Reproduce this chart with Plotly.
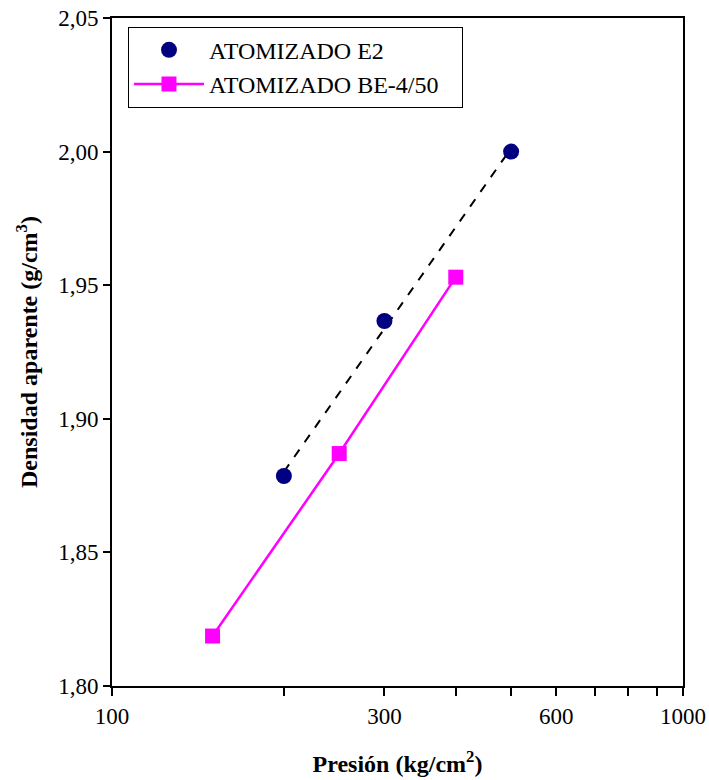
import numpy as np
import plotly.graph_objects as go

# Data
e2_pressure = [200, 300, 500]
e2_density = [1.8786, 1.9366, 2.000]
be_pressure = [150, 250, 400]
be_density = [1.8187, 1.887, 1.953]

series_names = ["ATOMIZADO E2", "ATOMIZADO BE-4/50"]

x_tickvals = [100, 200, 300, 400, 500, 600, 700, 800, 900, 1000]
x_ticktext = ["100", "", "300", "", "", "600", "", "", "", "1000"]
y_tickvals = [1.80, 1.85, 1.90, 1.95, 2.00, 2.05]

FONT = "'Liberation Serif', 'Times New Roman', serif"
PAD = "\u00a0\u00a0\u00a0"  # right padding inside the legend box

# Linear trend line (density vs log pressure) for E2
lx = np.log10(e2_pressure)
slope, intercept = np.polyfit(lx, e2_density, 1)
trend_x = [e2_pressure[0], e2_pressure[-1]]
trend_y = [slope * np.log10(v) + intercept for v in trend_x]

fig = go.Figure()
fig.add_trace(go.Scatter(
    x=trend_x, y=trend_y, mode="lines",
    line=dict(color="black", width=2, dash="dash"),
    showlegend=False, hoverinfo="skip"))
fig.add_trace(go.Scatter(
    x=e2_pressure, y=e2_density, mode="markers",
    name=series_names[0] + PAD,
    marker=dict(symbol="circle", size=16, color="#000080")))
fig.add_trace(go.Scatter(
    x=be_pressure, y=be_density, mode="lines+markers",
    name=series_names[1] + PAD,
    line=dict(color="#FF00FF", width=2.5),
    marker=dict(symbol="square", size=15, color="#FF00FF")))

fig.update_layout(
    width=709, height=780,
    margin=dict(l=112, r=26, t=18, b=94, autoexpand=False),
    paper_bgcolor="white", plot_bgcolor="white",
    separators=",.",
    font=dict(family=FONT, size=23, color="black"),
    legend=dict(
        x=0.028, y=0.987, xanchor="left", yanchor="top",
        bordercolor="black", borderwidth=1, bgcolor="white",
        font=dict(family=FONT, size=24, color="black"),
        tracegroupgap=0, itemwidth=70,
    ),
    xaxis=dict(
        type="log", range=[2, 3], automargin=False,
        tickvals=x_tickvals, ticktext=x_ticktext,
        ticks="outside", ticklen=8, tickwidth=2, tickcolor="black",
        ticklabeloverflow="allow",
        showline=True, linecolor="black", linewidth=2, mirror=True,
        showgrid=False, zeroline=False,
        tickfont=dict(family=FONT, size=23),
        title=dict(text="<b>Presión (kg/cm<sup>2</sup>)</b>",
                   font=dict(family=FONT, size=24), standoff=28),
    ),
    yaxis=dict(
        range=[1.80, 2.05], automargin=False,
        tickvals=y_tickvals, tickformat=".2f",
        ticks="outside", ticklen=7, tickwidth=2, tickcolor="black",
        ticklabeloverflow="allow",
        showline=True, linecolor="black", linewidth=2, mirror=True,
        showgrid=False, zeroline=False,
        tickfont=dict(family=FONT, size=23),
        title=dict(text="<b>Densidad aparente (g/cm<sup>3</sup>)</b>",
                   font=dict(family=FONT, size=24), standoff=14),
    ),
)

# Remove the browser's default 8px page margin so the figure sits at (0, 0).
fig.write_html("out.html",
               config={"displayModeBar": False},
               post_script="document.body.style.margin='0';")
